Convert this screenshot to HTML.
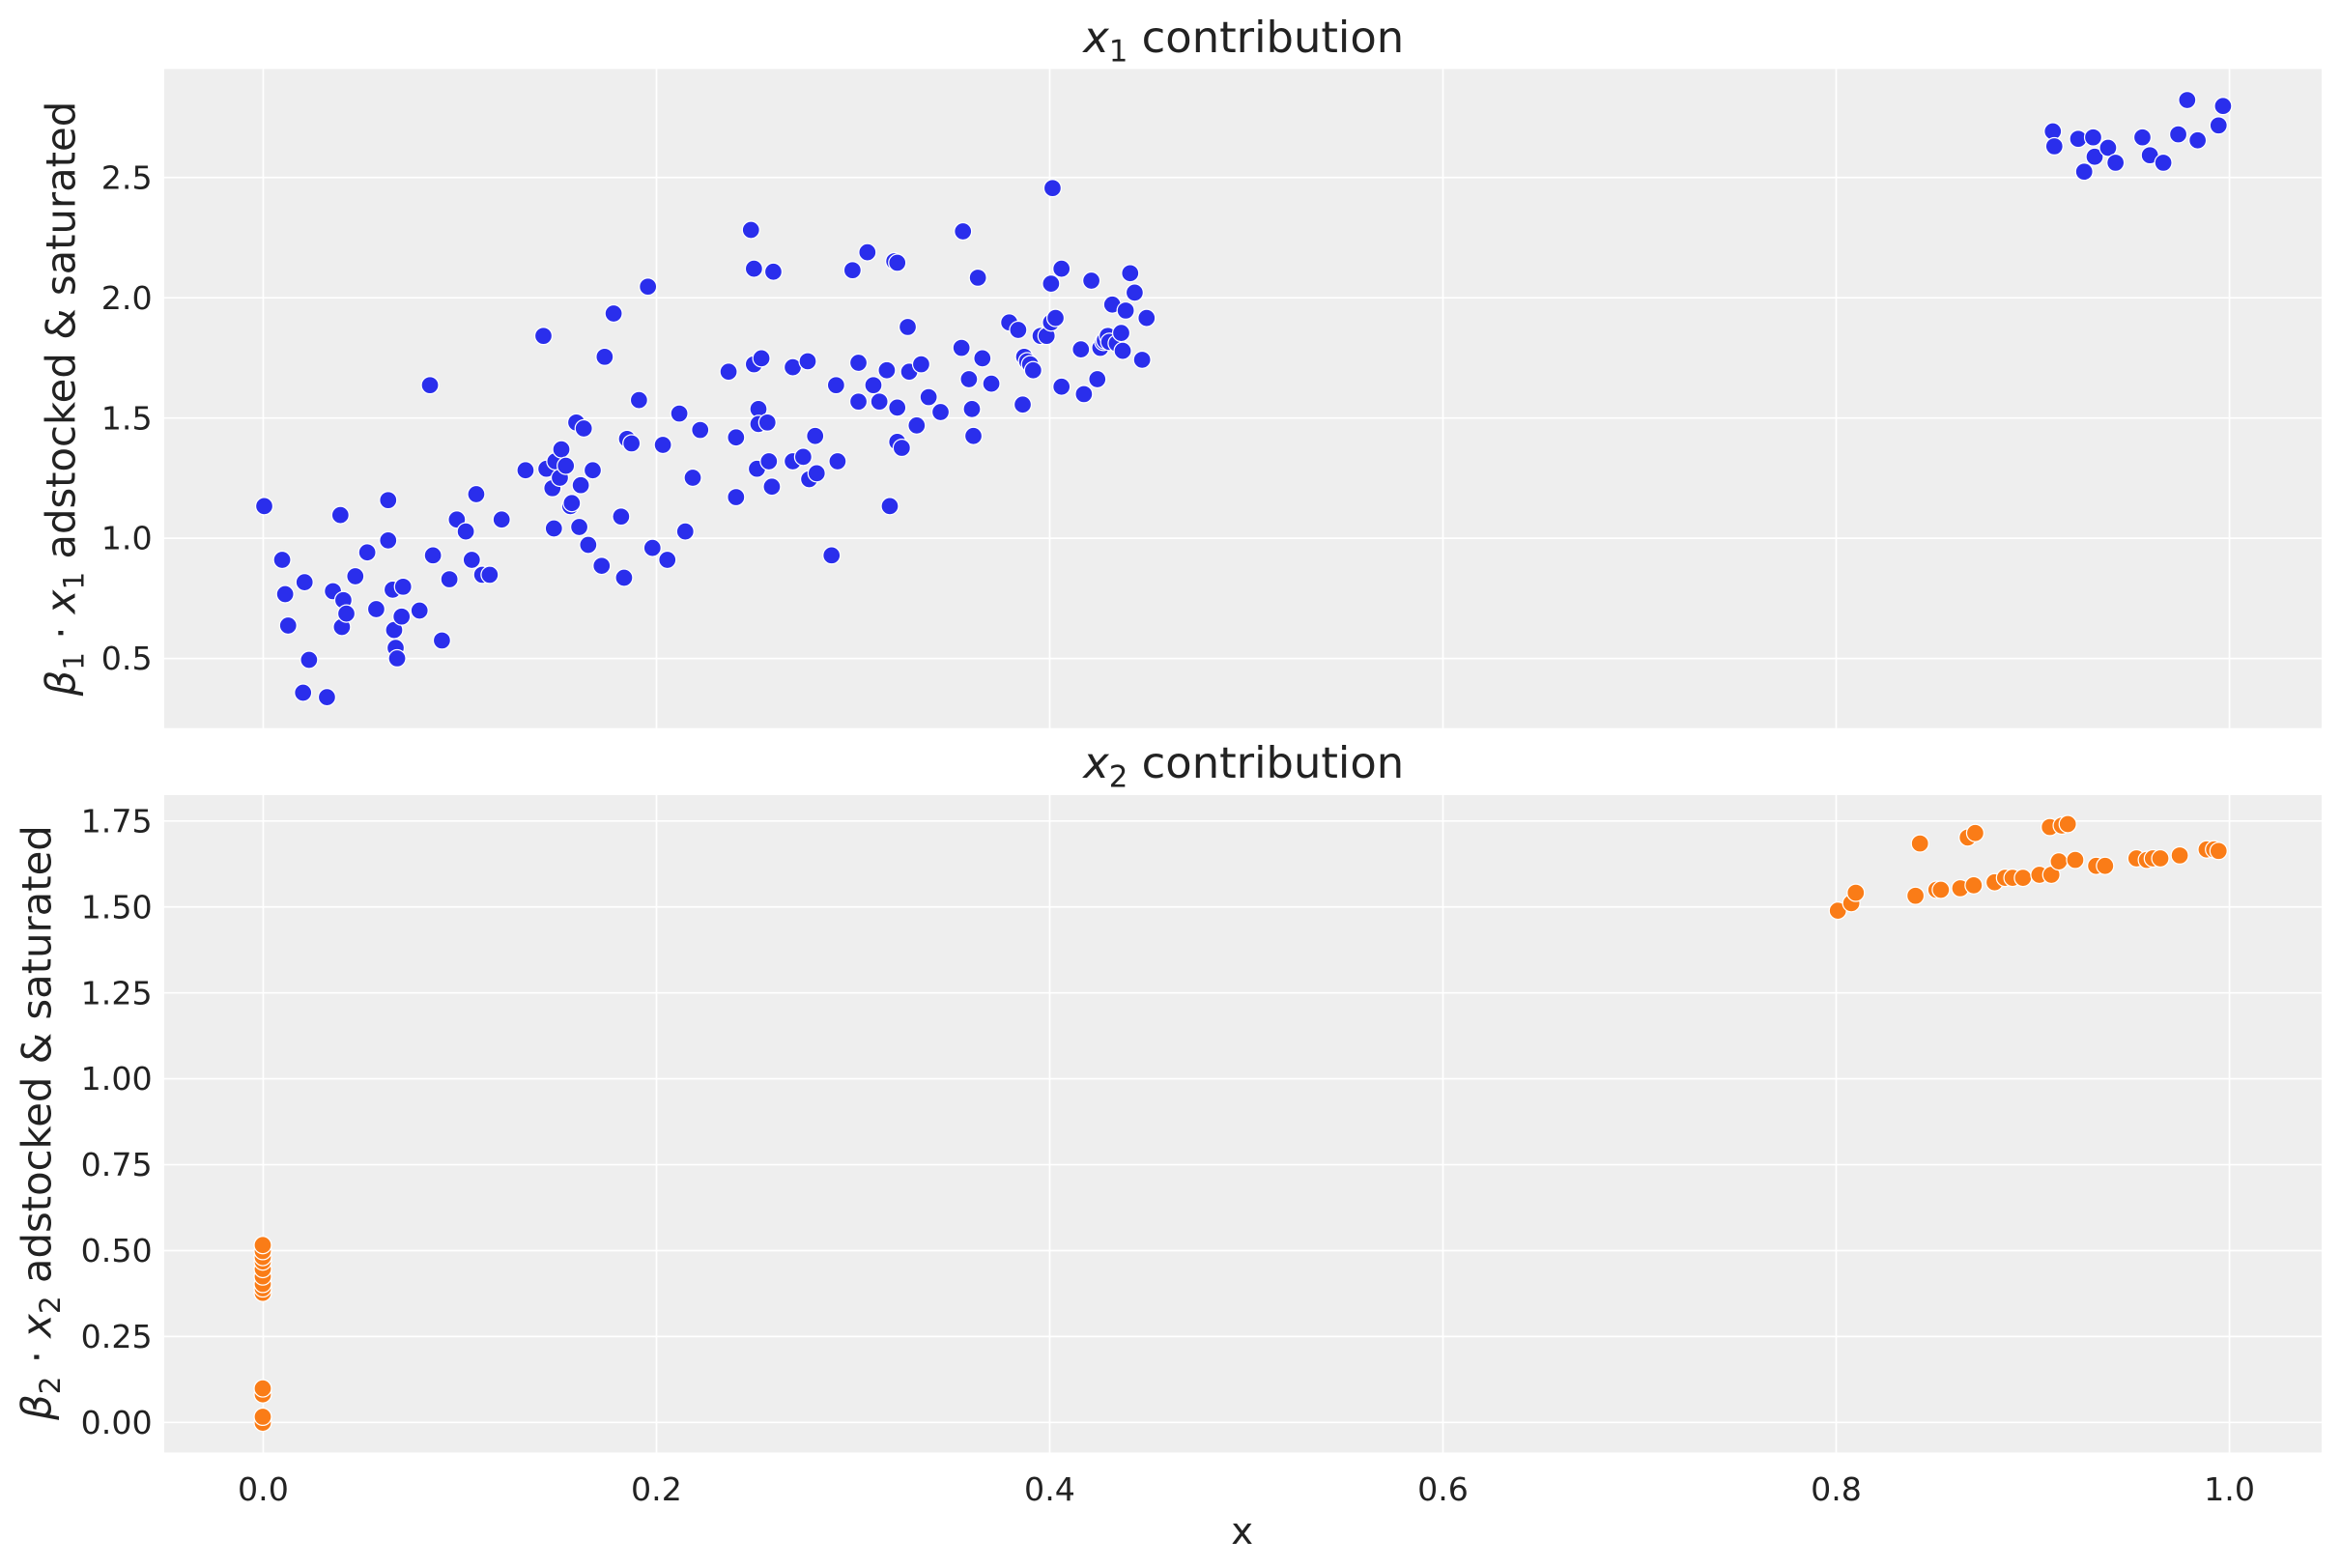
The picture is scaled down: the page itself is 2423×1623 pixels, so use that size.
<!DOCTYPE html>
<html><head><meta charset="utf-8"><style>
html,body{margin:0;padding:0;background:#fff;}
svg{display:block;}
text{font-family:"DejaVu Sans","Liberation Sans",sans-serif;fill:#222;}
</style></head><body>
<svg id="s" width="2423" height="1623" viewBox="0 0 1568 1050.3" xmlns="http://www.w3.org/2000/svg">
<rect x="110" y="46.2" width="1445" height="441.5" fill="#eeeeee"/>
<rect x="110" y="532.6" width="1445" height="440.3" fill="#eeeeee"/>
<g stroke="#fff" stroke-width="1.1" id="grid"></g>
<g id="pts"></g>
<g font-size="21.5" text-anchor="end" id="ylab"></g>
<g font-size="21.5" text-anchor="middle" id="xlab"></g>
<text x="833" y="35" font-size="29" text-anchor="middle"><tspan font-style="italic">x</tspan><tspan font-size="20" dy="6">1</tspan><tspan dy="-6"> contribution</tspan></text>
<text x="833" y="521" font-size="29" text-anchor="middle"><tspan font-style="italic">x</tspan><tspan font-size="20" dy="6">2</tspan><tspan dy="-6"> contribution</tspan></text>
<text x="832" y="1034" font-size="25" text-anchor="middle">x</text>
<text transform="translate(50,267) rotate(-90)" font-size="27" text-anchor="middle"><tspan font-style="italic">β</tspan><tspan font-size="19" dy="6">1</tspan><tspan dy="-6"> · </tspan><tspan font-style="italic">x</tspan><tspan font-size="19" dy="6">1</tspan><tspan dy="-6"> adstocked &amp; saturated</tspan></text>
<text transform="translate(34,752) rotate(-90)" font-size="27" text-anchor="middle"><tspan font-style="italic">β</tspan><tspan font-size="19" dy="6">2</tspan><tspan dy="-6"> · </tspan><tspan font-style="italic">x</tspan><tspan font-size="19" dy="6">2</tspan><tspan dy="-6"> adstocked &amp; saturated</tspan></text>
</svg>
<script>
var NS="http://www.w3.org/2000/svg";
function el(p,t,a,txt){var e=document.createElementNS(NS,t);for(var k in a)e.setAttribute(k,a[k]);if(txt!==undefined)e.textContent=txt;document.getElementById(p).appendChild(e);}
var X=function(v){return 176.3+1317*v;};
var xt=[0,0.2,0.4,0.6,0.8,1.0];
xt.forEach(function(v){var x=X(v);
 el("grid","line",{x1:x,x2:x,y1:46.2,y2:487.7});
 el("grid","line",{x1:x,x2:x,y1:532.6,y2:972.9});
 el("xlab","text",{x:x,y:1005},v.toFixed(1));});
[0.5,1.0,1.5,2.0,2.5].forEach(function(v){var y=441.1-161.1*(v-0.5);
 el("grid","line",{x1:110,x2:1555,y1:y,y2:y});
 el("ylab","text",{x:102,y:y+7.5},v.toFixed(1));});
[0,0.25,0.5,0.75,1.0,1.25,1.5,1.75].forEach(function(v){var y=952.8-230.2*v;
 el("grid","line",{x1:110,x2:1555,y1:y,y2:y});
 el("ylab","text",{x:102,y:y+7.5},v.toFixed(2));});
var B=[[177,339],[189,375],[191,398],[193,419],[204,390],[207,442],[203,464],[219,467],[223,396],[228,345],[229,420],[230,402],[232,411],[238,386],[246,370],[252,408],[260,335],[260,362],[263,395],[264,422],[265,434],[266,441],[269,413],[270,393],[281,409],[288,258],[290,372],[296,429],[301,388],[306,348],[312,356],[316,375],[319,331],[323,385],[328,385],[336,348],[352,315],[364,225],[366,314],[370,327],[371,354],[372,309],[376,301],[375,320],[379,312],[382,339],[383,337],[386,283],[388,353],[389,325],[391,287],[394,365],[397,315],[403,379],[405,239],[411,210],[416,346],[418,387],[420,294],[423,297],[428,268],[434,192],[437,367],[444,298],[447,375],[455,277],[459,356],[464,320],[469,288],[488,249],[493,293],[493,333],[503,154],[505,180],[505,244],[507,314],[508,274],[508,284],[510,240],[514,283],[515,309],[517,326],[518,182],[531,246],[531,309],[538,306],[541,242],[542,321],[546,292],[547,317],[557,372],[560,258],[561,309],[571,181],[575,243],[575,269],[581,169],[585,258],[589,269],[594,248],[596,339],[599,175],[601,176],[601,296],[601,273],[604,300],[608,219],[609,249],[614,285],[617,244],[622,266],[630,276],[644,233],[645,155],[649,254],[651,274],[652,292],[655,186],[658,240],[664,257],[676,216],[682,221],[685,271],[686,239],[688,242],[690,244],[692,248],[697,225],[701,225],[704,216],[704,190],[705,126],[707,213],[711,180],[711,259],[724,234],[726,264],[731,188],[735,254],[737,233],[739,229],[740,228],[742,225],[743,229],[745,204],[748,230],[751,223],[752,235],[754,208],[757,183],[760,196],[765,241],[768,213],
[1375,88],[1376,98],[1392,93],[1396,115],[1402,92],[1403,105],[1412,99],[1417,109],[1435,92],[1440,104],[1449,109],[1459,90],[1465,67],[1472,94],[1486,84],[1489,71]];
B.forEach(function(p){el("pts","circle",{cx:p[0],cy:p[1],r:5.8,fill:"#2a2eec",stroke:"#fff","stroke-width":0.8});});
var O=[[176,866],[176,863],[176,860],[176,855],[176,850],[176,845],[176,842],[176,838],[176,834],[176,953],[176,949],[176,934],[176,930],
[1231,610],[1240,605],[1243,598],[1283,600],[1286,565],[1297,596],[1300,596],[1313,595],[1318,561],[1322,593],[1323,558],[1336,591],[1343,588],[1348,588],[1355,588],[1366,586],[1373,554],[1374,586],[1379,577],[1381,553],[1385,552],[1390,576],[1404,580],[1410,580],[1431,575],[1438,576],[1442,575],[1447,575],[1460,573],[1478,569],[1483,569],[1486,570]];
O.forEach(function(p){el("pts","circle",{cx:p[0],cy:p[1],r:5.8,fill:"#fa7c17",stroke:"#fff","stroke-width":0.8});});
</script>
</body></html>
